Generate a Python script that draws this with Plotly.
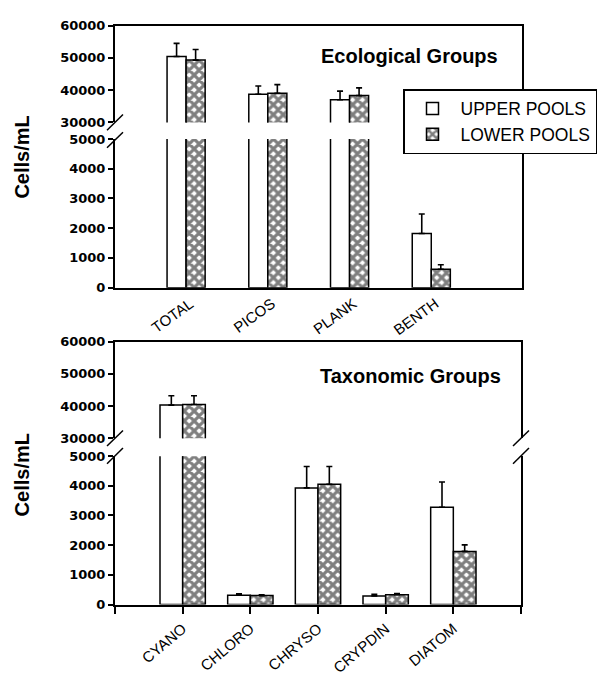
import plotly.graph_objects as go

# ---------------- data ----------------
eco_categories = ['TOTAL', 'PICOS', 'PLANK', 'BENTH']
eco_upper = [50400, 38700, 37000, 1820]
eco_upper_err = [4100, 2600, 2700, 660]
eco_lower = [49300, 39000, 38300, 620]
eco_lower_err = [3300, 2700, 2400, 150]

tax_categories = ['CYANO', 'CHLORO', 'CHRYSO', 'CRYPDIN', 'DIATOM']
tax_upper = [40300, 310, 3930, 290, 3280]
tax_upper_err = [2900, 50, 720, 50, 850]
tax_lower = [40500, 300, 4050, 330, 1790]
tax_lower_err = [2700, 30, 600, 40, 220]

series_names = ['UPPER POOLS', 'LOWER POOLS']
panel_titles = ['Ecological Groups', 'Taxonomic Groups']
y_title = 'Cells/mL'

W, H = 600, 679
fig = go.Figure()

TICKFONT = dict(family='DejaVu Sans', size=13, color='black', weight='bold')
XFONT = dict(family='Liberation Sans', size=15, color='black')


def px_x(p):
    return p / W


def px_y(p):
    return 1 - p / H


def add_panel(cats, up, up_err, lo, lo_err, xlow, xhigh, ylow, yhigh, w, legend):
    xs = list(range(len(cats)))
    for xa, ya, first in ((xlow, ylow, True), (xhigh, yhigh, False)):
        fig.add_trace(go.Bar(
            x=xs, y=up, width=w, offset=-w, xaxis=xa, yaxis=ya,
            name=series_names[0], legendgroup='up',
            showlegend=legend and first,
            marker=dict(color='white', line=dict(color='black', width=1.5)),
            error_y=dict(type='data', symmetric=False, array=up_err,
                         arrayminus=[0] * len(up), color='black',
                         thickness=1.6, width=3)))
        fig.add_trace(go.Bar(
            x=xs, y=lo, width=w, offset=0, xaxis=xa, yaxis=ya,
            name=series_names[1], legendgroup='lo',
            showlegend=legend and first,
            marker=dict(color='white', line=dict(color='black', width=1.5),
                        pattern=dict(shape='x', size=7, solidity=0.7,
                                     fgcolor='black', bgcolor='white')),
            error_y=dict(type='data', symmetric=False, array=lo_err,
                         arrayminus=[0] * len(lo), color='black',
                         thickness=1.6, width=3)))


add_panel(eco_categories, eco_upper, eco_upper_err, eco_lower, eco_lower_err,
          'x', 'x2', 'y', 'y2', 0.233, True)
add_panel(tax_categories, tax_upper, tax_upper_err, tax_lower, tax_lower_err,
          'x3', 'x4', 'y3', 'y4', 0.335, False)

yline = dict(showline=True, linecolor='black', linewidth=2, mirror=True,
             ticks='outside', ticklen=5, tickwidth=1.5, tickcolor='black',
             showgrid=False, zeroline=False, tickfont=TICKFONT, tickformat='d')

top_dom_x = [px_x(115), px_x(522)]
bot_dom_x = [px_x(115), px_x(521)]

fig.update_layout(
    width=W, height=H, margin=dict(l=0, r=0, t=0, b=0),
    paper_bgcolor='white', plot_bgcolor='white',
    barmode='overlay',
    xaxis=dict(domain=top_dom_x, anchor='y', range=[-0.87, 4.11],
               tickvals=list(range(len(eco_categories))), ticktext=eco_categories,
               ticks='', tickangle=-36, tickfont=XFONT, showgrid=False,
               ticklabelshift=4,
               zeroline=False, showline=True, linecolor='black', linewidth=1.5),
    xaxis2=dict(domain=top_dom_x, anchor='y2', matches='x', side='top',
                showticklabels=False, ticks='', showgrid=False, zeroline=False,
                showline=True, linecolor='black', linewidth=1.5),
    yaxis=dict(domain=[px_y(287), px_y(135)], anchor='x', range=[0, 5000],
               dtick=1000, **yline),
    yaxis2=dict(domain=[px_y(118), px_y(19)], anchor='x2', range=[30000, 60000],
                dtick=10000, **yline),
    xaxis3=dict(domain=bot_dom_x, anchor='y3', range=[-1, 5],
                tickvals=list(range(-1, len(tax_categories) + 1)),
                ticktext=[''] + tax_categories + [''],
                ticks='outside', ticklen=8, tickwidth=1.5, tickcolor='black',
                tickangle=-40, tickfont=XFONT, showgrid=False, zeroline=False,
                showline=True, linecolor='black', linewidth=1.5),
    xaxis4=dict(domain=bot_dom_x, anchor='y4', matches='x3', side='top',
                showticklabels=False, ticks='', showgrid=False, zeroline=False,
                showline=True, linecolor='black', linewidth=1.5),
    yaxis3=dict(domain=[px_y(611), px_y(459.3)], anchor='x3', range=[0, 5000],
                dtick=1000, **yline),
    yaxis4=dict(domain=[px_y(441), px_y(342.3)], anchor='x4', range=[30000, 60000],
                dtick=10000, **yline),
    legend=dict(x=px_x(403), y=px_y(84), xanchor='left', yanchor='top',
                bgcolor='white', bordercolor='black', borderwidth=1.5,
                font=dict(family='Liberation Sans', size=17.5, color='black'),
                itemwidth=46,
                traceorder='normal', tracegroupgap=0),
    showlegend=True,
)

# break marks
shapes = []


def brk(cx, cy):
    d = 8
    shapes.append(dict(type='line', xref='paper', yref='paper',
                       x0=px_x(cx - d), y0=px_y(cy + d),
                       x1=px_x(cx + d), y1=px_y(cy - d),
                       line=dict(color='black', width=1.5)))


brk(115, 118)
brk(115, 136)
brk(115, 441)
brk(115, 459)
brk(521, 441)
brk(521, 459)
fig.update_layout(shapes=shapes)

ann = []
ann.append(dict(text=panel_titles[0], x=px_x(409.5), y=px_y(50), xref='paper',
                yref='paper', showarrow=False, xanchor='center', yanchor='middle',
                font=dict(family='Liberation Sans', size=20, color='black',
                          weight='bold')))
ann.append(dict(text=panel_titles[1], x=px_x(410), y=px_y(377), xref='paper',
                yref='paper', showarrow=False, xanchor='center', yanchor='middle',
                font=dict(family='Liberation Sans', size=20, color='black',
                          weight='bold')))
for cy in (154, 479):
    ann.append(dict(text=y_title, x=px_x(22), y=px_y(cy), xref='paper',
                    yref='paper', showarrow=False, textangle=-90,
                    xanchor='center', yanchor='middle',
                    font=dict(family='Liberation Sans', size=20, color='black',
                              weight='bold')))
fig.update_layout(annotations=ann)

fig.write_html('out.html')
